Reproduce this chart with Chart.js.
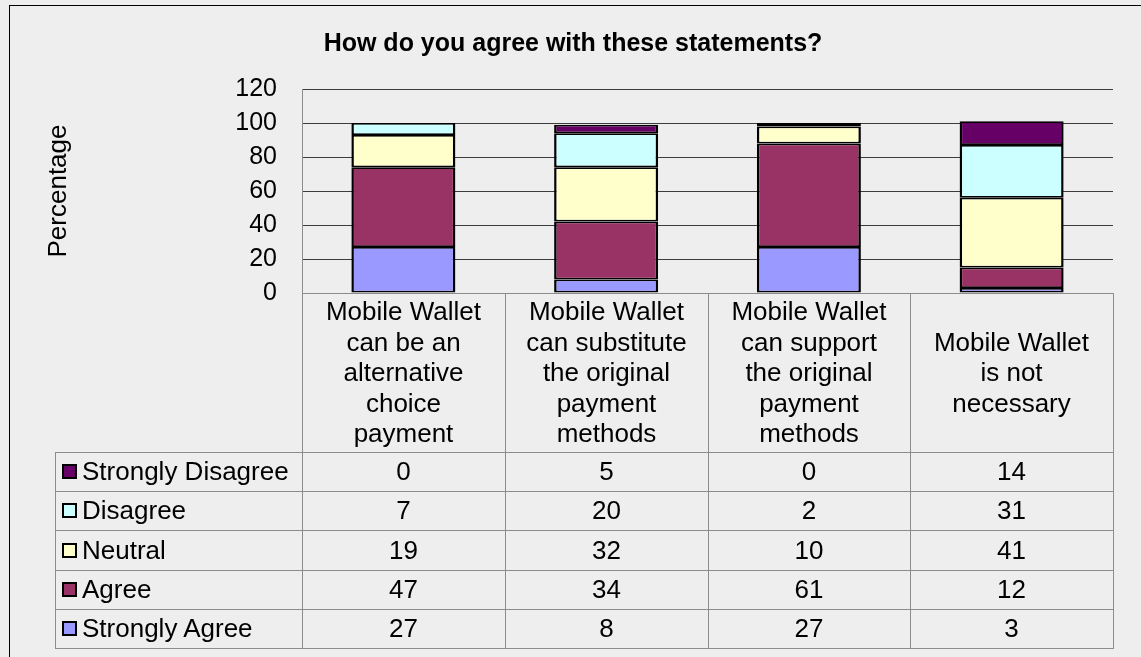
<!DOCTYPE html>
<html>
<head>
<meta charset="utf-8">
<script src="https://cdn.jsdelivr.net/npm/chart.js@4.4.1/dist/chart.umd.min.js"></script>
<style>
  body { margin: 0; background: #eeeeee; }
  #wrap {
    position: relative; width: 1141px; height: 657px; overflow: hidden;
    background: #eeeeee; font-family: "Liberation Sans", Arial, sans-serif; color: #000;
  }
  #frame { position: absolute; left: 9px; top: 5px; width: 1300px; height: 800px; border: 1px solid #000; }
  #chart { position: absolute; left: 0; top: 0; }
  #title {
    position: absolute; left: 5px; width: 1136px; top: 27px; text-align: center;
    font-weight: bold; font-size: 25px; line-height: 30px;
  }
  .line { position: absolute; background: #8c8c8c; }
  .cell {
    position: absolute; display: flex; align-items: center; justify-content: center;
    text-align: center; font-size: 26px; line-height: 30.5px; white-space: nowrap;
  }
  .cell.key { justify-content: flex-start; padding-left: 7px; box-sizing: border-box; }
  .swatch {
    display: inline-block; width: 11px; height: 11px; border: 2px solid #000;
    margin-right: 5px;
  }
</style>
</head>
<body>
<div id="wrap">
  <div id="frame"></div>
  <canvas id="chart" width="1141" height="657"></canvas>
  <div id="title">How do you agree with these statements?</div>
  <div id="table"></div>
</div>
<script>
// categories, one line per entry as they wrap in the table header
const categories = [
  ['Mobile Wallet', 'can be an', 'alternative', 'choice', 'payment'],
  ['Mobile Wallet', 'can substitute', 'the original', 'payment', 'methods'],
  ['Mobile Wallet', 'can support', 'the original', 'payment', 'methods'],
  ['Mobile Wallet', 'is not', 'necessary']
]

// percentages per answer
const stronglyAgree    = [27, 8, 27, 3]
const agree            = [47, 34, 61, 12]
const neutral          = [19, 32, 10, 41]
const disagree         = [7, 20, 2, 31]
const stronglyDisagree = [0, 5, 0, 14]

const yTicks = [0, 20, 40, 60, 80, 100, 120]

// bottom of the stack first
const series = [
  { label: 'Strongly Agree',    data: stronglyAgree,    color: '#9999ff' },
  { label: 'Agree',             data: agree,            color: '#993366' },
  { label: 'Neutral',           data: neutral,          color: '#ffffcc' },
  { label: 'Disagree',          data: disagree,         color: '#ccffff' },
  { label: 'Strongly Disagree', data: stronglyDisagree, color: '#660066' }
]

const chart = new Chart(document.getElementById('chart'), {
  type: 'bar',
  data: {
    labels: categories,
    datasets: series.map(s => ({
      label: s.label,
      data: s.data,
      backgroundColor: s.color,
      borderColor: '#000',
      // segments share an edge, so top + bottom make the seam
      borderWidth: { top: 1.75, bottom: 1.75, left: 2.5, right: 2.5 },
      borderSkipped: false,
      barPercentage: 0.513,
      categoryPercentage: 1
    }))
  },
  options: {
    responsive: false,
    animation: false,
    devicePixelRatio: 1,
    layout: { padding: { left: 9, right: 28, top: 89, bottom: 364 } },
    plugins: {
      legend: { display: false },
      tooltip: { enabled: false },
      title: { display: false }
    },
    scales: {
      x: { stacked: true, display: false },
      y: {
        stacked: true,
        min: yTicks[0],
        max: yTicks[yTicks.length - 1],
        afterBuildTicks: scale => { scale.ticks = yTicks.map(v => ({ value: v })) },
        afterFit: scale => { scale.width = 293 },
        ticks: {
          color: '#000',
          padding: 25,
          font: { family: '"Liberation Sans", Arial, sans-serif', size: 25 }
        },
        grid: {
          drawTicks: false,
          lineWidth: 1,
          // the zero line is the table's top edge
          color: ctx => ctx.tick && ctx.tick.value === 0 ? 'rgba(0,0,0,0)' : '#3c3c3c'
        },
        border: { color: '#8c8c8c', width: 1 },
        title: {
          display: true,
          text: 'Percentage',
          color: '#000',
          padding: { top: 34, bottom: 0 },
          font: { family: '"Liberation Sans", Arial, sans-serif', size: 26 }
        }
      }
    }
  }
})


// data table under the plot, lined up with the category columns
function buildTable() {
  let table = document.getElementById('table')
  let area = chart.chartArea
  let colW = (area.right - area.left) / categories.length
  let colX = categories.map((_, i) => Math.round(area.left + i * colW))
  colX.push(Math.round(area.right))

  let keyLeft = 55
  let headTop = Math.round(area.bottom)
  let headBottom = 452
  let rowH = 39.2
  let rows = series.slice().reverse()
  let rowY = range(0, rows.length, 1).map(r => Math.round(headBottom + r * rowH))

  let add = (cls, style, html) => {
    let d = document.createElement('div')
    d.className = cls
    Object.assign(d.style, style)
    if (html !== undefined) d.innerHTML = html
    table.appendChild(d)
    return d
  }
  let hLine = (x1, x2, y) => add('line', { left: x1 + 'px', top: y + 'px', width: (x2 - x1 + 1) + 'px', height: '1px' })
  let vLine = (x, y1, y2) => add('line', { left: x + 'px', top: y1 + 'px', width: '1px', height: (y2 - y1 + 1) + 'px' })

  // grid
  hLine(colX[0], colX[colX.length - 1], headTop)
  rowY.forEach(y => hLine(keyLeft, colX[colX.length - 1], y))
  colX.forEach(x => vLine(x, headTop, rowY[rowY.length - 1]))
  vLine(keyLeft, headBottom, rowY[rowY.length - 1])

  // header cells with the category names
  categories.forEach((lines, i) => {
    add('cell', {
      left: colX[i] + 'px', top: headTop + 'px',
      width: (colX[i + 1] - colX[i]) + 'px', height: (headBottom - headTop) + 'px'
    }, lines.join('<br>'))
  })

  // one row per answer, top answer first
  rows.forEach((s, r) => {
    let top = rowY[r], h = rowY[r + 1] - rowY[r]
    add('cell key', {
      left: keyLeft + 'px', top: top + 'px', width: (colX[0] - keyLeft) + 'px', height: h + 'px'
    }, '<span class="swatch" style="background:' + s.color + '"></span>' + s.label)
    s.data.forEach((v, i) => {
      add('cell', {
        left: colX[i] + 'px', top: top + 'px', width: (colX[i + 1] - colX[i]) + 'px', height: h + 'px'
      }, String(v))
    })
  })
}

function range(start, stop, step) {
  return Array.from({ length: (stop - start) / step + 1 }, (_, i) => start + (i * step))
}

buildTable()
</script>
</body>
</html>
